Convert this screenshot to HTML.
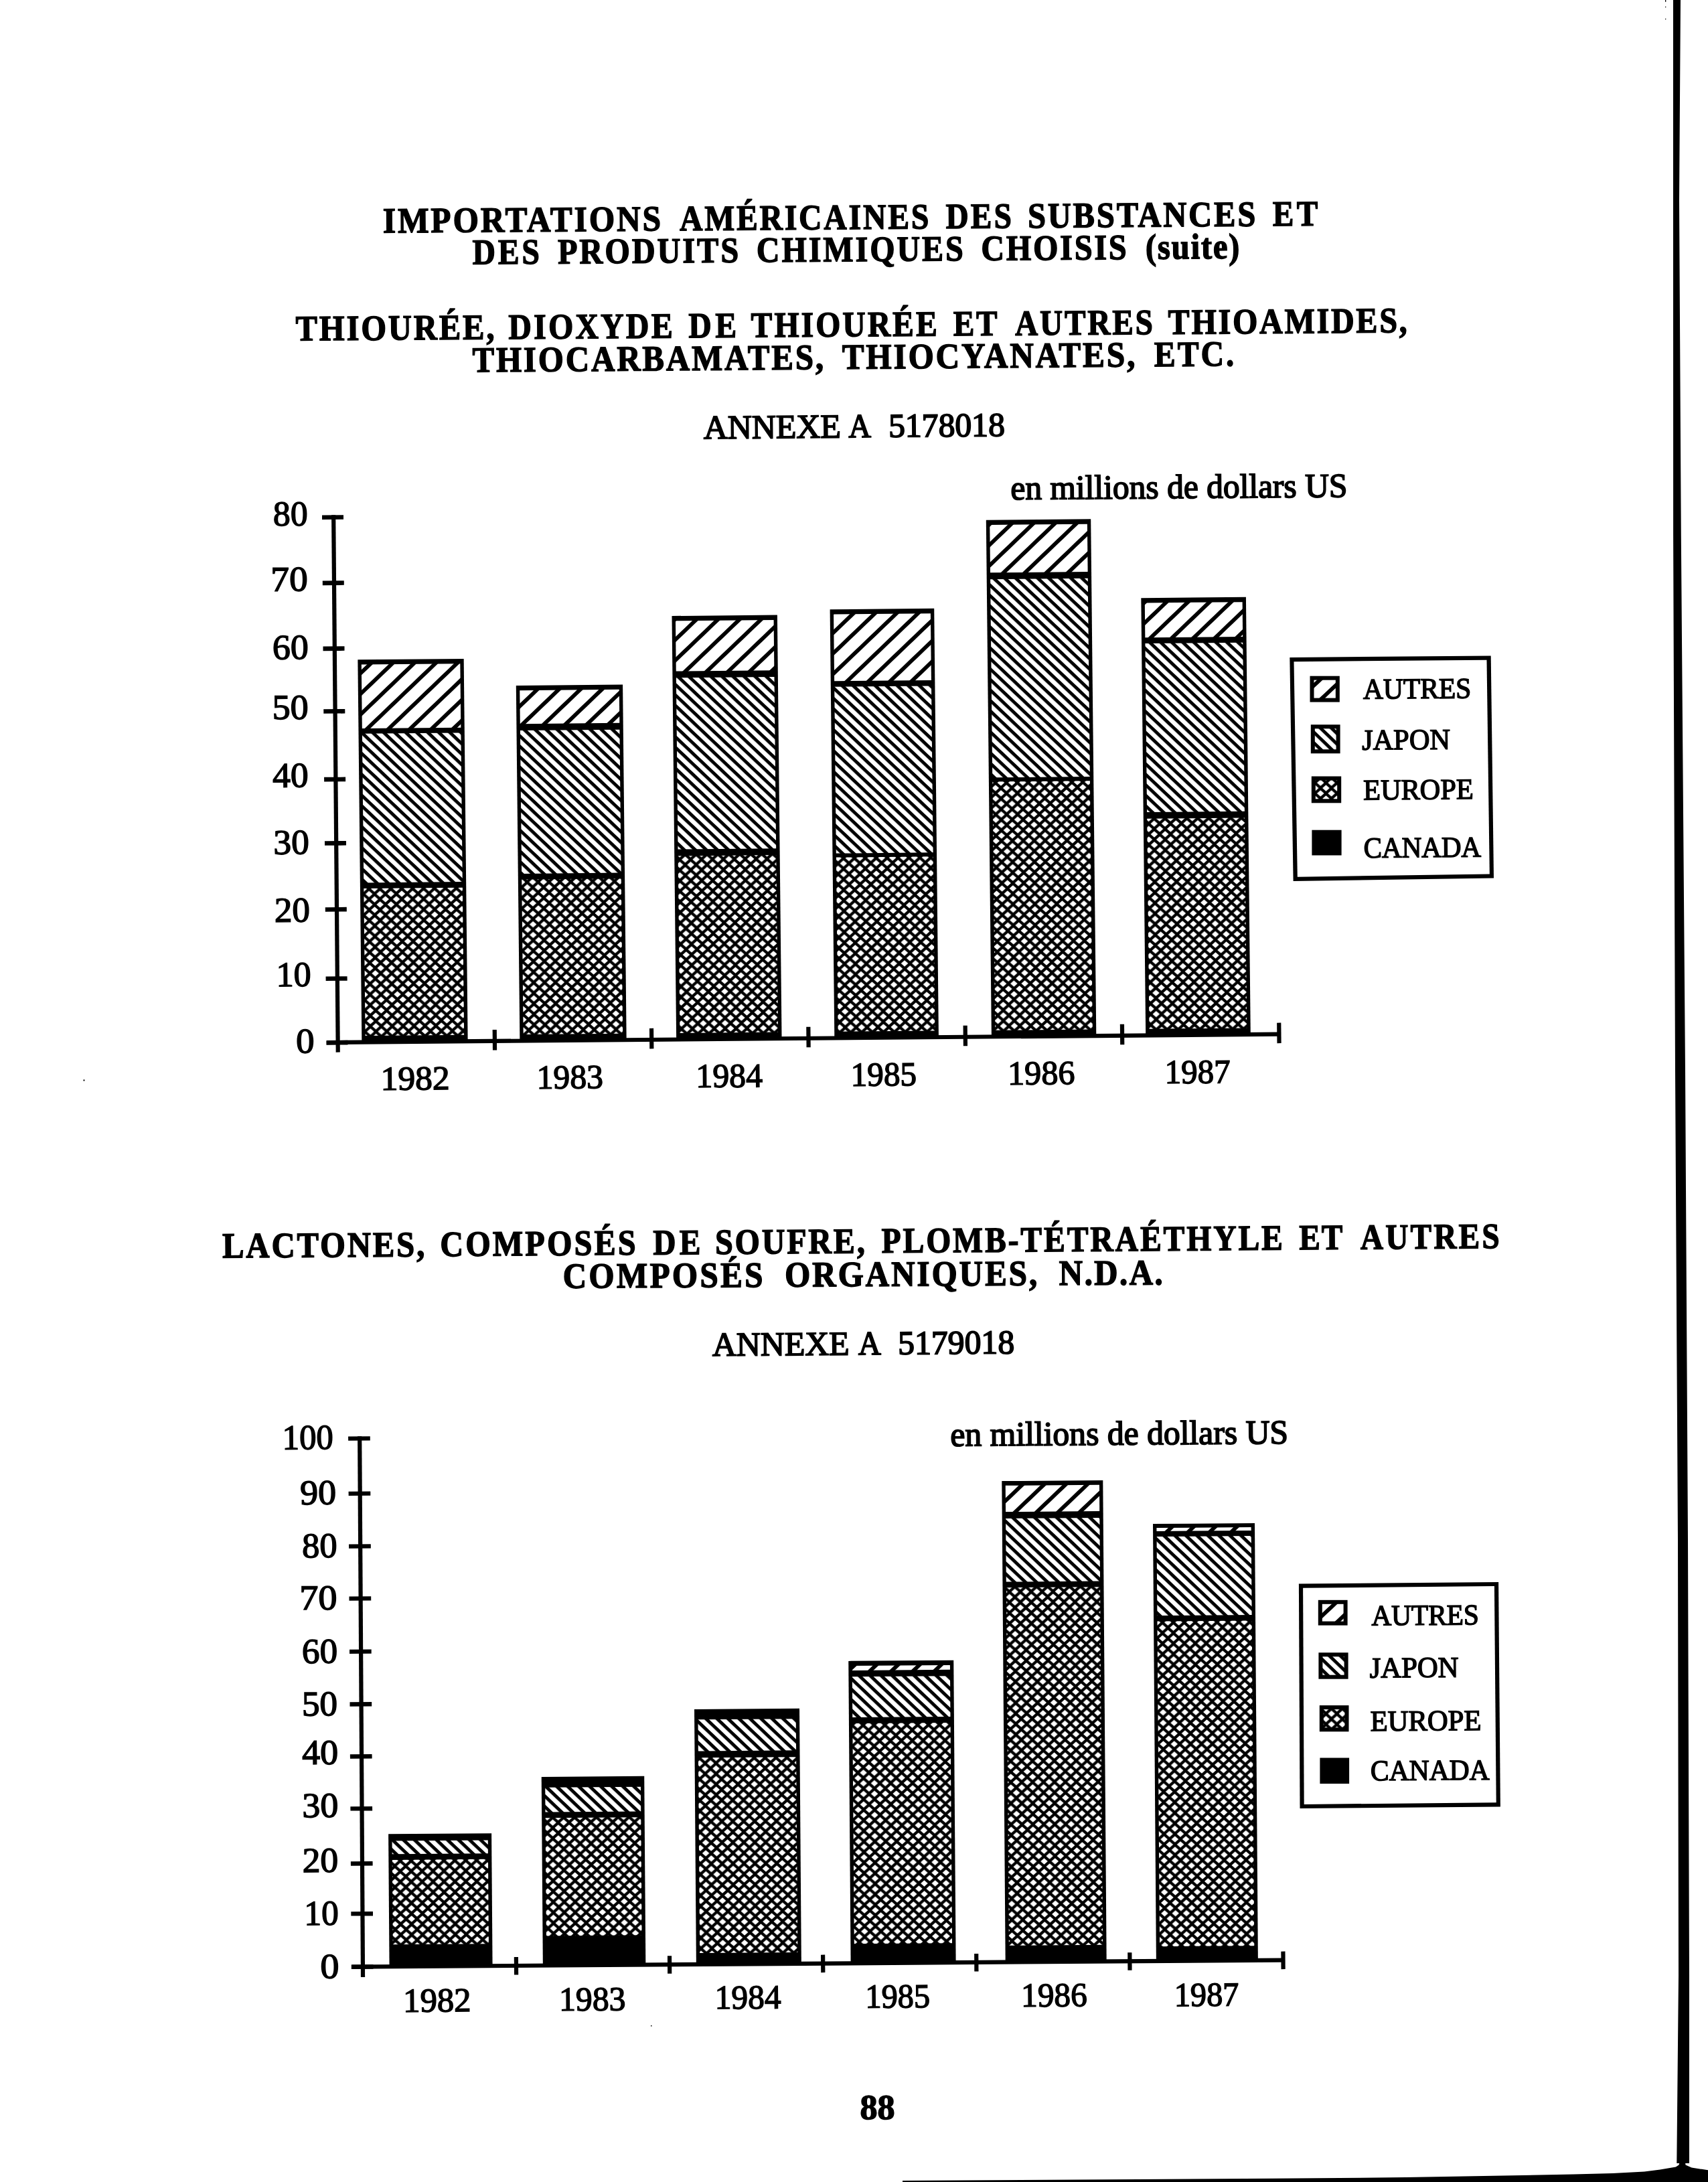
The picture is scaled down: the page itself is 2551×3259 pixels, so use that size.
<!DOCTYPE html>
<html><head><meta charset="utf-8"><title>Importations américaines</title>
<style>html,body{margin:0;padding:0;background:#fff;width:2551px;height:3259px;overflow:hidden}
text{font-family:"Liberation Serif",serif}</style></head>
<body><svg width="2551" height="3259" viewBox="0 0 2551 3259" font-family="Liberation Serif" fill="#000" style="display:block;will-change:transform"><defs>
<pattern id="pA" patternUnits="userSpaceOnUse" width="200" height="22.2" patternTransform="rotate(-43.2)"><rect width="200" height="22.2" fill="#fff"/><rect y="0" width="200" height="5.8" fill="#000"/></pattern>
<pattern id="pJ" patternUnits="userSpaceOnUse" width="200" height="11.35" patternTransform="rotate(44)"><rect width="200" height="11.35" fill="#fff"/><rect y="0" width="200" height="4.9" fill="#000"/></pattern>
<pattern id="pE" patternUnits="userSpaceOnUse" width="16.3" height="15.8"><rect width="16.3" height="15.8" fill="#000"/><polygon points="-5.3,0 0,-4.7 5.3,0 0,4.7" fill="#fff"/><polygon points="11,0 16.3,-4.7 21.6,0 16.3,4.7" fill="#fff"/><polygon points="-5.3,15.8 0,11.1 5.3,15.8 0,20.5" fill="#fff"/><polygon points="11,15.8 16.3,11.1 21.6,15.8 16.3,20.5" fill="#fff"/><polygon points="2.85,7.9 8.15,3.2 13.45,7.9 8.15,12.6" fill="#fff"/></pattern>
</defs><text x="-1.67" y="0" font-size="53.5" font-weight="bold" letter-spacing="3.252" transform="translate(573.5 347.6) rotate(-0.4435) scale(0.9209 1)" stroke="#000" stroke-width="1.5">IMPORTATIONS</text><text x="-0" y="0" font-size="53.5" font-weight="bold" letter-spacing="3.341" transform="translate(1015.2 344.18) rotate(-0.4435) scale(0.8866 1)" stroke="#000" stroke-width="1.5">AMÉRICAINES</text><text x="-0.84" y="0" font-size="53.5" font-weight="bold" letter-spacing="3.783" transform="translate(1413.5 341.09) rotate(-0.4435) scale(0.8800 1)" stroke="#000" stroke-width="1.5">DES</text><text x="-2.51" y="0" font-size="53.5" font-weight="bold" letter-spacing="3.306" transform="translate(1537.4 340.13) rotate(-0.4435) scale(0.9033 1)" stroke="#000" stroke-width="1.5">SUBSTANCES</text><text x="-0.84" y="0" font-size="53.5" font-weight="bold" letter-spacing="5.383" transform="translate(1901.7 337.31) rotate(-0.4435) scale(0.8800 1)" stroke="#000" stroke-width="1.5">ET</text><text x="-0.84" y="0" font-size="53.5" font-weight="bold" letter-spacing="4.394" transform="translate(706.4 394.6) rotate(-0.4409) scale(0.8884 1)" stroke="#000" stroke-width="1.5">DES</text><text x="-0.84" y="0" font-size="53.5" font-weight="bold" letter-spacing="3.397" transform="translate(833.9 393.62) rotate(-0.4409) scale(0.9000 1)" stroke="#000" stroke-width="1.5">PRODUITS</text><text x="-2.51" y="0" font-size="53.5" font-weight="bold" letter-spacing="3.407" transform="translate(1132.3 391.32) rotate(-0.4409) scale(0.8942 1)" stroke="#000" stroke-width="1.5">CHIMIQUES</text><text x="-2.51" y="0" font-size="53.5" font-weight="bold" letter-spacing="3.164" transform="translate(1467.8 388.74) rotate(-0.4409) scale(0.8971 1)" stroke="#000" stroke-width="1.5">CHOISIS</text><text x="-1.67" y="0" font-size="53.5" font-weight="bold" letter-spacing="2.015" transform="translate(1712.6 386.86) rotate(-0.4409) scale(0.9079 1)" stroke="#000" stroke-width="1.5">(suite)</text><text x="-0.84" y="0" font-size="53.5" font-weight="bold" letter-spacing="3.253" transform="translate(442.6 508.6) rotate(-0.4252) scale(0.9057 1)" stroke="#000" stroke-width="1.5">THIOURÉE,</text><text x="-0.84" y="0" font-size="53.5" font-weight="bold" letter-spacing="3.617" transform="translate(760.3 506.24) rotate(-0.4252) scale(0.8939 1)" stroke="#000" stroke-width="1.5">DIOXYDE</text><text x="-0.84" y="0" font-size="53.5" font-weight="bold" letter-spacing="6.195" transform="translate(1029.3 504.24) rotate(-0.4252) scale(0.8885 1)" stroke="#000" stroke-width="1.5">DE</text><text x="-0.84" y="0" font-size="53.5" font-weight="bold" letter-spacing="3.544" transform="translate(1122.6 503.55) rotate(-0.4252) scale(0.8878 1)" stroke="#000" stroke-width="1.5">THIOURÉE</text><text x="-0.84" y="0" font-size="53.5" font-weight="bold" letter-spacing="3.338" transform="translate(1424.7 501.31) rotate(-0.4252) scale(0.8800 1)" stroke="#000" stroke-width="1.5">ET</text><text x="-0" y="0" font-size="53.5" font-weight="bold" letter-spacing="3.346" transform="translate(1516.3 500.63) rotate(-0.4252) scale(0.8800 1)" stroke="#000" stroke-width="1.5">AUTRES</text><text x="-0.84" y="0" font-size="53.5" font-weight="bold" letter-spacing="3.171" transform="translate(1745.6 498.93) rotate(-0.4252) scale(0.8952 1)" stroke="#000" stroke-width="1.5">THIOAMIDES,</text><text x="-0.84" y="0" font-size="53.5" font-weight="bold" letter-spacing="3.274" transform="translate(706.4 555.6) rotate(-0.4741) scale(0.9118 1)" stroke="#000" stroke-width="1.5">THIOCARBAMATES,</text><text x="-0.84" y="0" font-size="53.5" font-weight="bold" letter-spacing="3.160" transform="translate(1258.7 551.03) rotate(-0.4741) scale(0.9183 1)" stroke="#000" stroke-width="1.5">THIOCYANATES,</text><text x="-0.84" y="0" font-size="53.5" font-weight="bold" letter-spacing="3.504" transform="translate(1724.8 547.17) rotate(-0.4741) scale(0.8898 1)" stroke="#000" stroke-width="1.5">ETC.</text><text x="1051" y="655.3" font-size="50.3" font-weight="normal" textLength="205.01" lengthAdjust="spacingAndGlyphs" transform="rotate(-0.5110 1051 655.3)" stroke="#000" stroke-width="1.8">ANNEXE</text><text x="1267.6" y="653.37" font-size="50.3" font-weight="normal" textLength="33.56" lengthAdjust="spacingAndGlyphs" transform="rotate(-0.5110 1267.6 653.37)" stroke="#000" stroke-width="1.8">A</text><text x="1327.17" y="652.82" font-size="50.3" font-weight="normal" textLength="173.88" lengthAdjust="spacingAndGlyphs" transform="rotate(-0.5110 1329.5 652.82)" stroke="#000" stroke-width="1.8">5178018</text><text x="1509.55" y="746" font-size="50.8" font-weight="normal" textLength="502.92" lengthAdjust="spacingAndGlyphs" transform="rotate(-0.4367 1511.1 746)" stroke="#000" stroke-width="1.8">en millions de dollars US</text><text x="-0.84" y="0" font-size="53.5" font-weight="bold" letter-spacing="3.307" transform="translate(333 1878.6) rotate(-0.4361) scale(0.9072 1)" stroke="#000" stroke-width="1.5">LACTONES,</text><text x="-2.51" y="0" font-size="53.5" font-weight="bold" letter-spacing="3.672" transform="translate(659.7 1876.11) rotate(-0.4361) scale(0.8971 1)" stroke="#000" stroke-width="1.5">COMPOSÉS</text><text x="-0.84" y="0" font-size="53.5" font-weight="bold" letter-spacing="6.195" transform="translate(976.2 1873.7) rotate(-0.4361) scale(0.8821 1)" stroke="#000" stroke-width="1.5">DE</text><text x="-2.51" y="0" font-size="53.5" font-weight="bold" letter-spacing="3.278" transform="translate(1070.5 1872.99) rotate(-0.4361) scale(0.8944 1)" stroke="#000" stroke-width="1.5">SOUFRE,</text><text x="-0.84" y="0" font-size="53.5" font-weight="bold" letter-spacing="3.360" transform="translate(1317.5 1871.11) rotate(-0.4361) scale(0.8879 1)" stroke="#000" stroke-width="1.5">PLOMB-TÉTRAÉTHYLE</text><text x="-0.84" y="0" font-size="53.5" font-weight="bold" letter-spacing="2.429" transform="translate(1941.3 1866.36) rotate(-0.4361) scale(0.8800 1)" stroke="#000" stroke-width="1.5">ET</text><text x="-0" y="0" font-size="53.5" font-weight="bold" letter-spacing="3.737" transform="translate(2032.1 1865.67) rotate(-0.4361) scale(0.8808 1)" stroke="#000" stroke-width="1.5">AUTRES</text><text x="-2.51" y="0" font-size="53.5" font-weight="bold" letter-spacing="3.672" transform="translate(843 1923.8) rotate(-0.3470) scale(0.9170 1)" stroke="#000" stroke-width="1.5">COMPOSÉS</text><text x="-2.51" y="0" font-size="53.5" font-weight="bold" letter-spacing="3.259" transform="translate(1174.5 1921.79) rotate(-0.3470) scale(0.9165 1)" stroke="#000" stroke-width="1.5">ORGANIQUES,</text><text x="-0.84" y="0" font-size="53.5" font-weight="bold" letter-spacing="2.670" transform="translate(1582.6 1919.32) rotate(-0.3470) scale(0.9151 1)" stroke="#000" stroke-width="1.5">N.D.A.</text><text x="1064" y="2025" font-size="50.3" font-weight="normal" textLength="204.81" lengthAdjust="spacingAndGlyphs" transform="rotate(-0.4459 1064 2025)" stroke="#000" stroke-width="1.8">ANNEXE</text><text x="1281.9" y="2023.3" font-size="50.3" font-weight="normal" textLength="33.86" lengthAdjust="spacingAndGlyphs" transform="rotate(-0.4459 1281.9 2023.3)" stroke="#000" stroke-width="1.8">A</text><text x="1341.37" y="2022.82" font-size="50.3" font-weight="normal" textLength="173.88" lengthAdjust="spacingAndGlyphs" transform="rotate(-0.4459 1343.7 2022.82)" stroke="#000" stroke-width="1.8">5179018</text><text x="1419.55" y="2159.7" font-size="50.8" font-weight="normal" textLength="504.54" lengthAdjust="spacingAndGlyphs" transform="rotate(-0.4238 1421.1 2159.7)" stroke="#000" stroke-width="1.8">en millions de dollars US</text><text x="1284.57" y="3165.2" font-size="53" font-weight="bold" textLength="52.05" lengthAdjust="spacingAndGlyphs" stroke="#000" stroke-width="1.5">88</text><g transform="matrix(1 -0.0088 0.0105 1 504.6 1557.0)"><rect x="35.75" y="-571.39" width="158.3" height="571.39" fill="#000"/><rect x="41.15" y="-564.09" width="147.5" height="95.49" fill="url(#pA)"/><rect x="41.15" y="-460.8" width="147.5" height="222.58" fill="url(#pJ)"/><rect x="41.15" y="-229.62" width="147.5" height="220.08" fill="url(#pE)"/><rect x="271.77" y="-530.71" width="159.3" height="530.71" fill="#000"/><rect x="277.17" y="-523.41" width="148.5" height="50" fill="url(#pA)"/><rect x="277.17" y="-463.61" width="148.5" height="213.98" fill="url(#pJ)"/><rect x="277.17" y="-241.03" width="148.5" height="231.48" fill="url(#pE)"/><rect x="505.54" y="-632.55" width="157.4" height="632.55" fill="#000"/><rect x="510.94" y="-625.26" width="146.6" height="75.29" fill="url(#pA)"/><rect x="510.94" y="-540.17" width="146.6" height="256.28" fill="url(#pJ)"/><rect x="510.94" y="-274.09" width="146.6" height="264.48" fill="url(#pE)"/><rect x="741.72" y="-640.27" width="155.6" height="640.27" fill="#000"/><rect x="747.12" y="-632.99" width="144.8" height="99.79" fill="url(#pA)"/><rect x="747.12" y="-524.6" width="144.8" height="248.78" fill="url(#pJ)"/><rect x="747.12" y="-269.82" width="144.8" height="260.18" fill="url(#pE)"/><rect x="976.3" y="-771.71" width="156.4" height="771.71" fill="#000"/><rect x="981.7" y="-764.42" width="145.6" height="71.39" fill="url(#pA)"/><rect x="981.7" y="-683.23" width="145.6" height="296.17" fill="url(#pJ)"/><rect x="981.7" y="-380.86" width="145.6" height="371.27" fill="url(#pE)"/><rect x="1206.58" y="-653.19" width="156.6" height="653.19" fill="#000"/><rect x="1211.98" y="-645.9" width="145.8" height="51.9" fill="url(#pA)"/><rect x="1211.98" y="-585.21" width="145.8" height="251.88" fill="url(#pJ)"/><rect x="1211.98" y="-323.53" width="145.8" height="313.87" fill="url(#pE)"/><rect x="-16.5" y="-3.1" width="1422.5" height="6.2" fill="#000"/><rect x="231.2" y="-17" width="6.2" height="30.5" fill="#000"/><rect x="465.5" y="-17" width="6.2" height="30.5" fill="#000"/><rect x="699.8" y="-17" width="6.2" height="30.5" fill="#000"/><rect x="934.1" y="-17" width="6.2" height="30.5" fill="#000"/><rect x="1168.4" y="-17" width="6.2" height="30.5" fill="#000"/><rect x="1402.7" y="-17" width="6.2" height="30.5" fill="#000"/><polygon points="-3.1,14.6 3.1,14.6 4.94,-787.68 -1.26,-787.68" fill="#000"/><rect x="-15.36" y="-787.68" width="32" height="6.6" fill="#000"/><rect x="-15.59" y="-689.59" width="32" height="6.6" fill="#000"/><rect x="-15.92" y="-591.59" width="32" height="6.6" fill="#000"/><rect x="-16.11" y="-497.89" width="32" height="6.6" fill="#000"/><rect x="-16.37" y="-396.29" width="32" height="6.6" fill="#000"/><rect x="-16.48" y="-300.89" width="32" height="6.6" fill="#000"/><rect x="-16.71" y="-202" width="32" height="6.6" fill="#000"/><rect x="-17" y="-98.7" width="32" height="6.6" fill="#000"/><rect x="-17.2" y="-3" width="32" height="6.6" fill="#000"/></g><text x="408.09" y="785.1" font-size="52.5" font-weight="normal" textLength="51.63" lengthAdjust="spacingAndGlyphs" transform="rotate(-0.4584 409.7 785.1)" stroke="#000" stroke-width="1.5">80</text><text x="404.54" y="882.7" font-size="52.5" font-weight="normal" textLength="55.28" lengthAdjust="spacingAndGlyphs" transform="rotate(-0.4584 408 882.7)" stroke="#000" stroke-width="1.5">70</text><text x="407.02" y="984.5" font-size="52.5" font-weight="normal" textLength="53.76" lengthAdjust="spacingAndGlyphs" transform="rotate(-0.4584 408.7 984.5)" stroke="#000" stroke-width="1.5">60</text><text x="406.77" y="1074.1" font-size="52.5" font-weight="normal" textLength="54.02" lengthAdjust="spacingAndGlyphs" transform="rotate(-0.4584 409.3 1074.1)" stroke="#000" stroke-width="1.5">50</text><text x="407.26" y="1175.7" font-size="52.5" font-weight="normal" textLength="53.51" lengthAdjust="spacingAndGlyphs" transform="rotate(-0.4584 408.1 1175.7)" stroke="#000" stroke-width="1.5">40</text><text x="408.6" y="1275.7" font-size="52.5" font-weight="normal" textLength="53.37" lengthAdjust="spacingAndGlyphs" transform="rotate(-0.4584 411.1 1275.7)" stroke="#000" stroke-width="1.5">30</text><text x="410.04" y="1377" font-size="52.5" font-weight="normal" textLength="53.01" lengthAdjust="spacingAndGlyphs" transform="rotate(-0.4584 411.7 1377)" stroke="#000" stroke-width="1.5">20</text><text x="412.84" y="1473.3" font-size="52.5" font-weight="normal" textLength="51.99" lengthAdjust="spacingAndGlyphs" transform="rotate(-0.4584 416.9 1473.3)" stroke="#000" stroke-width="1.5">10</text><text x="442.19" y="1572.6" font-size="52.5" font-weight="normal" textLength="27.43" lengthAdjust="spacingAndGlyphs" transform="rotate(-0.4584 443.9 1572.6)" stroke="#000" stroke-width="1.5">0</text><text x="568.77" y="1627.9" font-size="50.5" font-weight="normal" textLength="103.04" lengthAdjust="spacingAndGlyphs" transform="rotate(-0.4584 572.8 1627.9)" stroke="#000" stroke-width="1.5">1982</text><text x="801.82" y="1625.9" font-size="50.5" font-weight="normal" textLength="99.23" lengthAdjust="spacingAndGlyphs" transform="rotate(-0.4584 805.7 1625.9)" stroke="#000" stroke-width="1.5">1983</text><text x="1039.61" y="1624" font-size="50.5" font-weight="normal" textLength="99.46" lengthAdjust="spacingAndGlyphs" transform="rotate(-0.4584 1043.5 1624)" stroke="#000" stroke-width="1.5">1984</text><text x="1270.75" y="1621.9" font-size="50.5" font-weight="normal" textLength="98.49" lengthAdjust="spacingAndGlyphs" transform="rotate(-0.4584 1274.6 1621.9)" stroke="#000" stroke-width="1.5">1985</text><text x="1505.28" y="1619.9" font-size="50.5" font-weight="normal" textLength="100.3" lengthAdjust="spacingAndGlyphs" transform="rotate(-0.4584 1509.2 1619.9)" stroke="#000" stroke-width="1.5">1986</text><text x="1739.77" y="1618.1" font-size="50.5" font-weight="normal" textLength="97.99" lengthAdjust="spacingAndGlyphs" transform="rotate(-0.4584 1743.6 1618.1)" stroke="#000" stroke-width="1.5">1987</text><g transform="matrix(1 -0.00727 0.0075 1 541.9 2937.6)"><rect x="39.68" y="-198.01" width="154" height="198.01" fill="#000"/><rect x="45.08" y="-187.66" width="143.2" height="19.7" fill="url(#pJ)"/><rect x="45.08" y="-159.36" width="143.2" height="126.39" fill="url(#pE)"/><rect x="268.94" y="-281.75" width="153.5" height="281.75" fill="#000"/><rect x="274.34" y="-265.89" width="142.7" height="36.8" fill="url(#pJ)"/><rect x="274.34" y="-220.39" width="142.7" height="176.19" fill="url(#pE)"/><rect x="497.97" y="-381.08" width="157" height="381.08" fill="#000"/><rect x="503.37" y="-365.71" width="146.2" height="47.2" fill="url(#pJ)"/><rect x="503.37" y="-308.72" width="146.2" height="291.78" fill="url(#pE)"/><rect x="728.73" y="-451.41" width="157" height="451.41" fill="#000"/><rect x="734.13" y="-444.24" width="146.2" height="6.9" fill="url(#pA)"/><rect x="734.13" y="-427.94" width="146.2" height="60.7" fill="url(#pJ)"/><rect x="734.13" y="-358.14" width="146.2" height="329.18" fill="url(#pE)"/><rect x="959.78" y="-718.52" width="151" height="718.52" fill="#000"/><rect x="965.18" y="-711.77" width="140.2" height="39.3" fill="url(#pA)"/><rect x="965.18" y="-662.57" width="140.2" height="94.59" fill="url(#pJ)"/><rect x="965.18" y="-559.38" width="140.2" height="534.67" fill="url(#pE)"/><rect x="1184.99" y="-652.88" width="152" height="652.88" fill="#000"/><rect x="1190.39" y="-646.93" width="141.2" height="4.9" fill="url(#pA)"/><rect x="1190.39" y="-633.93" width="141.2" height="117.99" fill="url(#pJ)"/><rect x="1190.39" y="-507.34" width="141.2" height="485.57" fill="url(#pE)"/><rect x="-16.5" y="-3.1" width="1391.1" height="6.2" fill="#000"/><rect x="226" y="-13" width="6.2" height="26.5" fill="#000"/><rect x="455.1" y="-13" width="6.2" height="26.5" fill="#000"/><rect x="684.2" y="-13" width="6.2" height="26.5" fill="#000"/><rect x="913.3" y="-13" width="6.2" height="26.5" fill="#000"/><rect x="1142.4" y="-13" width="6.2" height="26.5" fill="#000"/><rect x="1371.5" y="-13" width="6.2" height="26.5" fill="#000"/><polygon points="-3.1,15.4 3.1,15.4 4.32,-792.29 -1.88,-792.29" fill="#000"/><rect x="-15.88" y="-792.29" width="32.7" height="6.4" fill="#000"/><rect x="-16" y="-710.09" width="32.7" height="6.4" fill="#000"/><rect x="-16.09" y="-631.29" width="32.7" height="6.4" fill="#000"/><rect x="-16.27" y="-553.29" width="32.7" height="6.4" fill="#000"/><rect x="-16.37" y="-474.09" width="32.7" height="6.4" fill="#000"/><rect x="-16.46" y="-395.4" width="32.7" height="6.4" fill="#000"/><rect x="-16.64" y="-317.4" width="32.7" height="6.4" fill="#000"/><rect x="-16.73" y="-239.5" width="32.7" height="6.4" fill="#000"/><rect x="-16.84" y="-157.4" width="32.7" height="6.4" fill="#000"/><rect x="-17.01" y="-82.5" width="32.7" height="6.4" fill="#000"/><rect x="-17.1" y="-3.2" width="32.7" height="6.4" fill="#000"/></g><text x="421.83" y="2164.7" font-size="52.5" font-weight="normal" textLength="76.15" lengthAdjust="spacingAndGlyphs" transform="rotate(-0.4584 425.8 2164.7)" stroke="#000" stroke-width="1.5">100</text><text x="448.31" y="2246.9" font-size="52.5" font-weight="normal" textLength="53.97" lengthAdjust="spacingAndGlyphs" transform="rotate(-0.4584 450 2246.9)" stroke="#000" stroke-width="1.5">90</text><text x="451.16" y="2326.2" font-size="52.5" font-weight="normal" textLength="52.48" lengthAdjust="spacingAndGlyphs" transform="rotate(-0.4584 452.8 2326.2)" stroke="#000" stroke-width="1.5">80</text><text x="447.48" y="2404.1" font-size="52.5" font-weight="normal" textLength="56.28" lengthAdjust="spacingAndGlyphs" transform="rotate(-0.4584 451 2404.1)" stroke="#000" stroke-width="1.5">70</text><text x="451.14" y="2483.9" font-size="52.5" font-weight="normal" textLength="53.12" lengthAdjust="spacingAndGlyphs" transform="rotate(-0.4584 452.8 2483.9)" stroke="#000" stroke-width="1.5">60</text><text x="450.9" y="2562.4" font-size="52.5" font-weight="normal" textLength="53.37" lengthAdjust="spacingAndGlyphs" transform="rotate(-0.4584 453.4 2562.4)" stroke="#000" stroke-width="1.5">50</text><text x="451.36" y="2635.1" font-size="52.5" font-weight="normal" textLength="54.03" lengthAdjust="spacingAndGlyphs" transform="rotate(-0.4584 452.2 2635.1)" stroke="#000" stroke-width="1.5">40</text><text x="451.47" y="2714.2" font-size="52.5" font-weight="normal" textLength="53.91" lengthAdjust="spacingAndGlyphs" transform="rotate(-0.4584 454 2714.2)" stroke="#000" stroke-width="1.5">30</text><text x="451.72" y="2796.2" font-size="52.5" font-weight="normal" textLength="53.65" lengthAdjust="spacingAndGlyphs" transform="rotate(-0.4584 453.4 2796.2)" stroke="#000" stroke-width="1.5">20</text><text x="454.59" y="2875.3" font-size="52.5" font-weight="normal" textLength="51.31" lengthAdjust="spacingAndGlyphs" transform="rotate(-0.4584 458.6 2875.3)" stroke="#000" stroke-width="1.5">10</text><text x="478.64" y="2954.6" font-size="52.5" font-weight="normal" textLength="28.11" lengthAdjust="spacingAndGlyphs" transform="rotate(-0.4584 480.4 2954.6)" stroke="#000" stroke-width="1.5">0</text><text x="602.35" y="3004.9" font-size="50.5" font-weight="normal" textLength="101.23" lengthAdjust="spacingAndGlyphs" transform="rotate(-0.4584 606.3 3004.9)" stroke="#000" stroke-width="1.5">1982</text><text x="835.32" y="3003.1" font-size="50.5" font-weight="normal" textLength="99.23" lengthAdjust="spacingAndGlyphs" transform="rotate(-0.4584 839.2 3003.1)" stroke="#000" stroke-width="1.5">1983</text><text x="1067.84" y="3000.3" font-size="50.5" font-weight="normal" textLength="98.83" lengthAdjust="spacingAndGlyphs" transform="rotate(-0.4584 1071.7 3000.3)" stroke="#000" stroke-width="1.5">1984</text><text x="1292.52" y="2998.8" font-size="50.5" font-weight="normal" textLength="96.69" lengthAdjust="spacingAndGlyphs" transform="rotate(-0.4584 1296.3 2998.8)" stroke="#000" stroke-width="1.5">1985</text><text x="1525.36" y="2997.1" font-size="50.5" font-weight="normal" textLength="98.41" lengthAdjust="spacingAndGlyphs" transform="rotate(-0.4584 1529.2 2997.1)" stroke="#000" stroke-width="1.5">1986</text><text x="1754.03" y="2996.4" font-size="50.5" font-weight="normal" textLength="96.42" lengthAdjust="spacingAndGlyphs" transform="rotate(-0.4584 1757.8 2996.4)" stroke="#000" stroke-width="1.5">1987</text><polygon points="1926.3,982 2226.7,979.5 2231,1311.6 1931.6,1316" fill="#000"/><polygon points="1932.5,988.2 2220.5,985.7 2224.8,1305.4 1937.8,1309.8" fill="#fff"/><rect x="1956.5" y="1009.7" width="44.3" height="38.9" fill="#000"/><rect x="1962.5" y="1015.7" width="32.3" height="26.9" fill="url(#pA)"/><text x="2036" y="1043.8" font-size="43.5" font-weight="normal" textLength="161.43" lengthAdjust="spacingAndGlyphs" transform="rotate(-0.4584 2036 1043.8)" stroke="#000" stroke-width="1.5">AUTRES</text><rect x="1957.8" y="1082.3" width="43.8" height="43" fill="#000"/><rect x="1963.8" y="1088.3" width="31.8" height="31" fill="url(#pJ)"/><text x="2034.34" y="1119.7" font-size="43.5" font-weight="normal" textLength="131.67" lengthAdjust="spacingAndGlyphs" transform="rotate(-0.4584 2035 1119.7)" stroke="#000" stroke-width="1.5">JAPON</text><rect x="1958.8" y="1159.5" width="44.4" height="39.8" fill="#000"/><rect x="1964.8" y="1165.5" width="32.4" height="27.8" fill="url(#pE)"/><text x="2036.34" y="1194.4" font-size="43.5" font-weight="normal" textLength="164.4" lengthAdjust="spacingAndGlyphs" transform="rotate(-0.4584 2037 1194.4)" stroke="#000" stroke-width="1.5">EUROPE</text><rect x="1959.4" y="1239.7" width="44.2" height="37.8" fill="#000"/><text x="2036.72" y="1281" font-size="43.5" font-weight="normal" textLength="175.42" lengthAdjust="spacingAndGlyphs" transform="rotate(-0.4584 2038 1281)" stroke="#000" stroke-width="1.5">CANADA</text><polygon points="1939.9,2365.5 2238.1,2362.9 2240.9,2698.5 1941.5,2701.1" fill="#000"/><polygon points="1946.1,2371.7 2231.9,2369.1 2234.7,2692.3 1947.7,2694.9" fill="#fff"/><rect x="1968.8" y="2389.8" width="43.8" height="37.8" fill="#000"/><rect x="1974.8" y="2395.8" width="31.8" height="25.8" fill="url(#pA)"/><text x="2048.4" y="2427.6" font-size="43.5" font-weight="normal" textLength="160.52" lengthAdjust="spacingAndGlyphs" transform="rotate(-0.4584 2048.4 2427.6)" stroke="#000" stroke-width="1.5">AUTRES</text><rect x="1969.4" y="2468.3" width="44.2" height="39.4" fill="#000"/><rect x="1975.4" y="2474.3" width="32.2" height="27.4" fill="url(#pJ)"/><text x="2045.73" y="2505.7" font-size="43.5" font-weight="normal" textLength="132.88" lengthAdjust="spacingAndGlyphs" transform="rotate(-0.4584 2046.4 2505.7)" stroke="#000" stroke-width="1.5">JAPON</text><rect x="1970.8" y="2547.1" width="43.7" height="39.2" fill="#000"/><rect x="1976.8" y="2553.1" width="31.7" height="27.2" fill="url(#pE)"/><text x="2046.73" y="2585.3" font-size="43.5" font-weight="normal" textLength="165.93" lengthAdjust="spacingAndGlyphs" transform="rotate(-0.4584 2047.4 2585.3)" stroke="#000" stroke-width="1.5">EUROPE</text><rect x="1971.4" y="2625.5" width="43.7" height="38.6" fill="#000"/><text x="2047.1" y="2659.3" font-size="43.5" font-weight="normal" textLength="177.54" lengthAdjust="spacingAndGlyphs" transform="rotate(-0.4584 2048.4 2659.3)" stroke="#000" stroke-width="1.5">CANADA</text><polygon points="2499,0 2499,300 2499.1,800 2502,1600 2506,2300 2507,2950 2504.3,3231 2523,3231 2523,2950 2521,2300 2517,1600 2510.8,800 2508,300 2510,0" fill="#000"/><polygon points="1348,3257 1700,3255 1900,3253.8 2100,3252.1 2350,3247.6 2408.8,3245.9 2455.9,3243.5 2479.4,3240.6 2502.9,3236.5 2507.5,3233.6 2508.5,3230 2517,3230 2517.5,3233.6 2526.5,3237.6 2551,3241.2 2551,3259 1348,3259" fill="#000"/><rect x="2487" y="0" width="1.3" height="2.8" fill="#000"/><rect x="2487" y="9.8" width="1.3" height="1.3" fill="#000"/><rect x="2487" y="27.8" width="1.3" height="1.3" fill="#000"/><rect x="124.5" y="1612.5" width="2" height="2" fill="#000"/><rect x="972" y="3025" width="1.5" height="1.5" fill="#000"/></svg></body></html>
